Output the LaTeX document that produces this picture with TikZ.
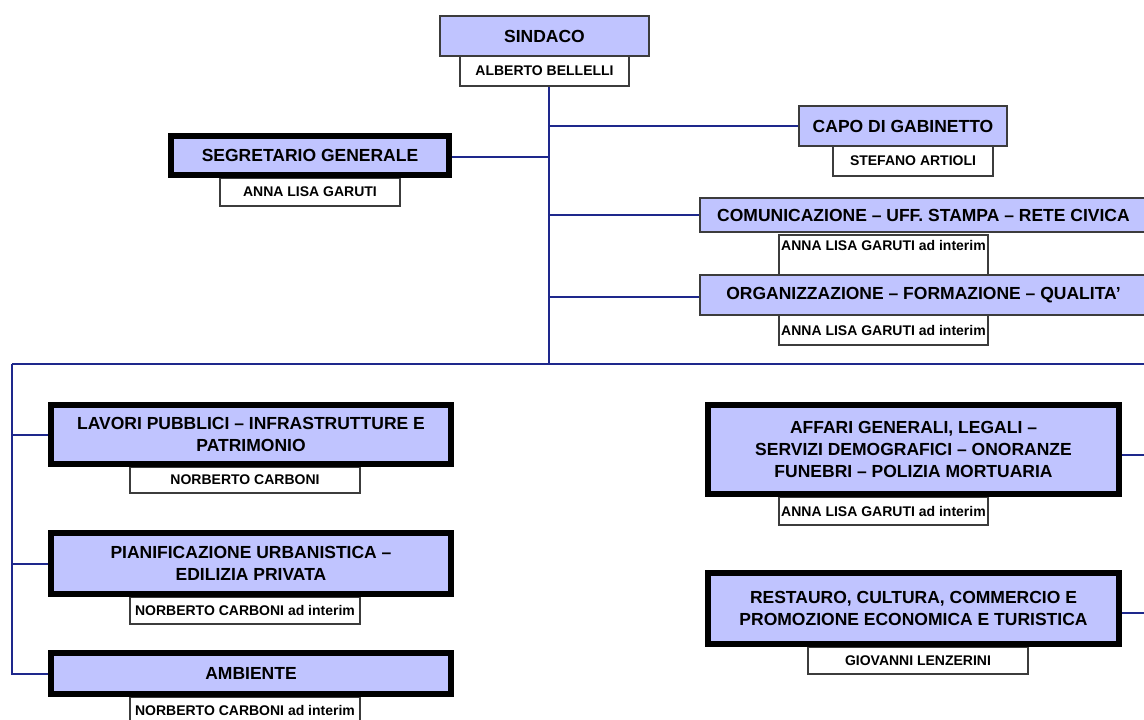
\documentclass[tikz,border=0pt]{standalone}
\usepackage{fontspec}
\setmainfont{Liberation Sans}
\definecolor{boxblue}{RGB}{192,196,255}
\definecolor{navy}{RGB}{30,40,140}
\definecolor{edgegray}{RGB}{60,60,60}
\tikzset{
  unit/.style={draw=edgegray, line width=1.5pt, fill=boxblue, inner sep=0pt, align=center,
    font=\fontsize{17.5}{21.8}\selectfont\bfseries},
  bigunit/.style={unit, draw=black, line width=6pt},
  person/.style={draw=edgegray, line width=1.5pt, fill=white, inner sep=0pt,
    font=\fontsize{14}{16}\selectfont\bfseries},
  link/.style={draw=navy, line width=2pt},
}
\begin{document}
\begin{tikzpicture}[x=1pt,y=-1pt]
\useasboundingbox (0,0) rectangle (1144,720);
% people
\node[person, minimum width=169pt, minimum height=30pt] (alberto) at (544.5,71) {ALBERTO BELLELLI};
\node[person, minimum width=160pt, minimum height=30pt] (stefano) at (913,161) {STEFANO ARTIOLI};
\node[person, minimum width=180pt, minimum height=28pt] (garuti) at (310,192) {ANNA LISA GARUTI};
\node[person, minimum width=209pt, minimum height=40pt, inner ysep=0pt, text height=15pt, text depth=25pt] (garutiA) at (883.5,255) {ANNA LISA GARUTI ad interim};
\node[person, minimum width=209pt, minimum height=30pt] (garutiB) at (883.5,330) {ANNA LISA GARUTI ad interim};
\node[person, minimum width=230pt, minimum height=26pt] (carboni) at (245,480) {NORBERTO CARBONI};
\node[person, minimum width=230pt, minimum height=27pt] (carboniA) at (245,610.5) {NORBERTO CARBONI ad interim};
\node[person, minimum width=230pt, minimum height=27pt] (carboniB) at (245,710.5) {NORBERTO CARBONI ad interim};
\node[person, minimum width=209pt, minimum height=28pt] (garutiC) at (883.5,511) {ANNA LISA GARUTI ad interim};
\node[person, minimum width=220pt, minimum height=27pt] (lenzerini) at (918,660.5) {GIOVANNI LENZERINI};
% units
\node[unit, minimum width=209pt, minimum height=40pt] (sindaco) at (544.5,36) {SINDACO};
\node[unit, minimum width=208pt, minimum height=40pt] (capo) at (903,126) {CAPO DI GABINETTO};
\node[bigunit, minimum width=278pt, minimum height=39pt] (segretario) at (310,155.5) {SEGRETARIO GENERALE};
\node[unit, minimum width=447pt, minimum height=34pt] (comunicazione) at (923.5,215) {COMUNICAZIONE -- UFF. STAMPA -- RETE CIVICA};
\node[unit, minimum width=447pt, minimum height=40pt] (organizzazione) at (923.5,295) {ORGANIZZAZIONE -- FORMAZIONE -- QUALITA'};
\node[bigunit, minimum width=400pt, minimum height=59pt] (lavori) at (251,434.5) {LAVORI PUBBLICI -- INFRASTRUTTURE E\\PATRIMONIO};
\node[bigunit, minimum width=400pt, minimum height=61pt] (pianificazione) at (251,563.5) {PIANIFICAZIONE URBANISTICA --\\EDILIZIA PRIVATA};
\node[bigunit, minimum width=400pt, minimum height=41pt] (ambiente) at (251,673.5) {AMBIENTE};
\node[bigunit, minimum width=411pt, minimum height=89pt] (affari) at (913.5,449.5) {AFFARI GENERALI, LEGALI --\\SERVIZI DEMOGRAFICI -- ONORANZE\\FUNEBRI -- POLIZIA MORTUARIA};
\node[bigunit, minimum width=411pt, minimum height=71pt] (restauro) at (913.5,608.5) {RESTAURO, CULTURA, COMMERCIO E\\PROMOZIONE ECONOMICA E TURISTICA};
% connectors
\coordinate (hub) at (549,364);
\coordinate (busL) at (12,364);
\coordinate (busR) at (1144,364);
\draw[link] (alberto.south -| hub) -- (hub);
\draw[link] (capo.west) -- (capo.west -| hub);
\draw[link] ([yshift=-1.5pt]segretario.east) -- ([yshift=-1.5pt]segretario.east -| hub);
\draw[link] (comunicazione.west) -- (comunicazione.west -| hub);
\draw[link] ([yshift=-2pt]organizzazione.west) -- ([yshift=-2pt]organizzazione.west -| hub);
\draw[link] (busL) -- (busR);
\draw[link] (busL) -- (ambiente.west -| busL) -- (ambiente.west);
\draw[link] (lavori.west -| busL) -- (lavori.west);
\draw[link] (pianificazione.west -| busL) -- (pianificazione.west);
\draw[link] ([yshift=-5.5pt]affari.east) -- ([yshift=-5.5pt]affari.east -| busR);
\draw[link] ([yshift=-4.5pt]restauro.east) -- ([yshift=-4.5pt]restauro.east -| busR);
\end{tikzpicture}
\end{document}
